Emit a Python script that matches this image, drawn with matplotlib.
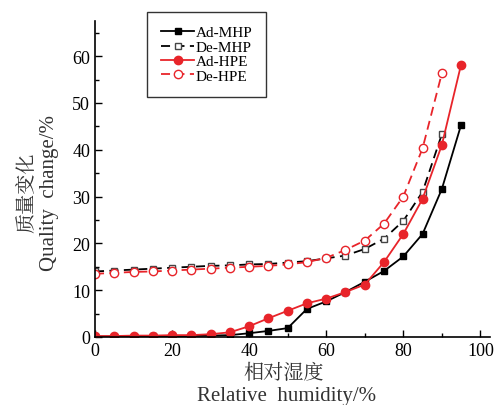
import numpy as np
import matplotlib
matplotlib.use('Agg')
import matplotlib.pyplot as plt
from matplotlib.ticker import MultipleLocator

plt.rcParams['font.family'] = ['Liberation Serif', 'Noto Sans CJK SC']

# 吸附 / 脱附 质量变化 (%)
rh_ad = [0, 5, 10, 15, 20, 25, 30, 35, 40, 45, 50, 55, 60, 65, 70, 75, 80, 85, 90, 95]
ad_mhp = [0.1, 0.1, 0.1, 0.2, 0.2, 0.2, 0.3, 0.4, 0.8, 1.3, 1.9, 6.0, 7.6, 9.6, 11.8, 14.1, 17.2, 22.0, 31.6, 45.3]
ad_hpe = [0.2, 0.2, 0.3, 0.3, 0.4, 0.4, 0.6, 1.0, 2.3, 4.0, 5.6, 7.2, 8.2, 9.6, 11.2, 16.0, 22.0, 29.5, 41.0, 58.2]

rh_de = [0, 5, 10, 15, 20, 25, 30, 35, 40, 45, 50, 55, 60, 65, 70, 75, 80, 85, 90]
de_mhp = [14.0, 14.2, 14.4, 14.6, 14.8, 15.0, 15.2, 15.3, 15.5, 15.6, 15.9, 16.2, 16.8, 17.4, 18.8, 21.0, 24.8, 31.0, 43.3]
de_hpe = [13.5, 13.7, 13.9, 14.0, 14.2, 14.4, 14.6, 14.8, 15.0, 15.2, 15.5, 16.0, 16.9, 18.6, 20.6, 24.2, 30.0, 40.3, 56.3]

RED = '#e8242a'
CJK = ['Noto Serif CJK SC', 'Noto Sans CJK SC']

fig = plt.figure(figsize=(4.96, 4.06), dpi=100)
ax = fig.add_axes([95 / 496, 1 - 338 / 406, 395 / 496, 316 / 406])

ax.plot(rh_ad, ad_mhp, '-', color='black', lw=1.3, marker='s', ms=5,
        mfc='black', mec='black', label='Ad-MHP')
ax.plot(rh_de, de_mhp, '--', color='black', lw=1.3, dashes=(5, 3), marker='s', ms=5,
        mfc='white', mec='#444444', label='De-MHP')
ax.plot(rh_ad, ad_hpe, '-', color=RED, lw=1.3, marker='o', ms=6,
        mfc=RED, mec=RED, label='Ad-HPE')
ax.plot(rh_de, de_hpe, '--', color=RED, lw=1.3, dashes=(5, 3), marker='o', ms=6,
        mfc='white', mec=RED, label='De-HPE')

ax.set_xlim(0, 102.5)
ax.set_ylim(0, 67.5)
ax.xaxis.set_major_locator(MultipleLocator(20))
ax.xaxis.set_minor_locator(MultipleLocator(10))
ax.yaxis.set_major_locator(MultipleLocator(10))
ax.yaxis.set_minor_locator(MultipleLocator(5))
ax.tick_params(which='both', direction='in', labelsize=13, width=1, colors='black')
ax.tick_params(which='major', length=5)
ax.tick_params(which='minor', length=3)
ax.spines['top'].set_visible(False)
ax.spines['right'].set_visible(False)
for s in ('left', 'bottom'):
    ax.spines[s].set_linewidth(1.2)

leg = ax.legend(loc='upper left', bbox_to_anchor=(147 / 496, 1 - 13 / 406),
                bbox_transform=fig.transFigure, borderaxespad=0, fontsize=11,
                frameon=True, fancybox=False, handlelength=2.2, handletextpad=0.1,
                labelspacing=0.05, borderpad=0.9)
leg.get_frame().set_edgecolor('black')
leg.get_frame().set_linewidth(1.0)

# 双语坐标轴标题
fig.text(26 / 496, 1 - 193 / 406, '质量变化', rotation=90, ha='center', va='center',
         fontsize=14.5, color='#333333', family=CJK)
fig.text(50 / 496, 1 - 193 / 406, 'Quality  change/%', rotation=90, ha='center', va='center',
         fontsize=15, color='#333333')
fig.text(284 / 496, 1 - 373 / 406, '相对湿度', ha='center', va='center',
         fontsize=14.5, color='#333333', family=CJK)
fig.text(287 / 496, 1 - 397 / 406, 'Relative  humidity/%', ha='center', va='center',
         fontsize=15, color='#333333')

fig.savefig('out.png', dpi=100)
